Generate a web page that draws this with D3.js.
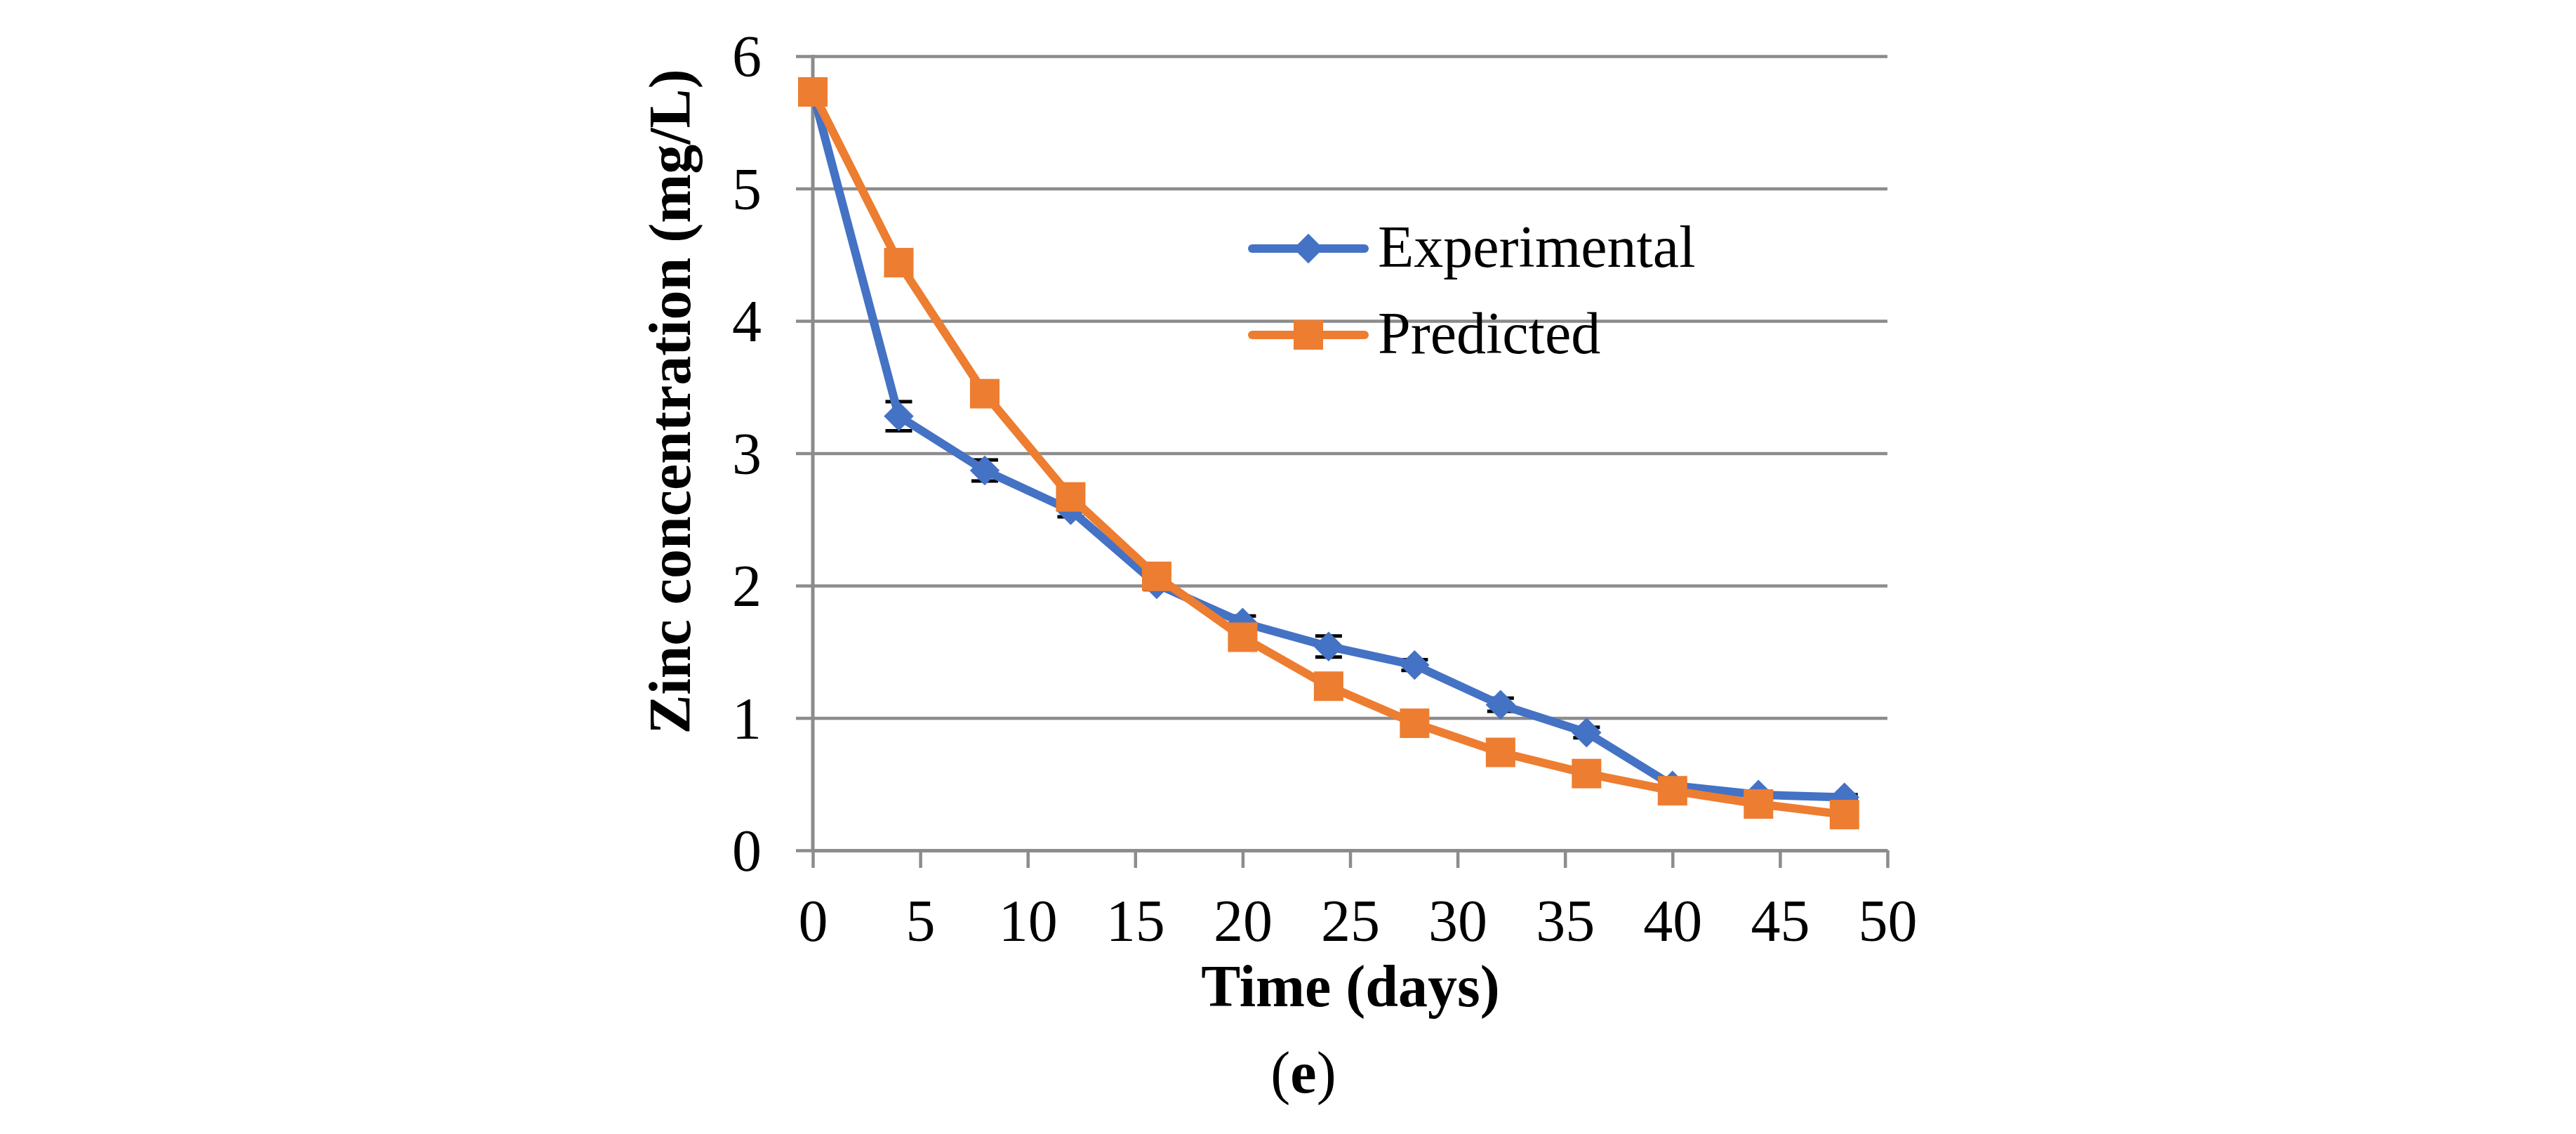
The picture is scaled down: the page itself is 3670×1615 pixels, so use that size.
<!DOCTYPE html>
<html>
<head>
<meta charset="utf-8">
<script src="https://cdn.jsdelivr.net/npm/d3@7"></script>
<style>
  body { margin: 0; background: #fff; }
  text { font-family: "Liberation Serif", "Times New Roman", serif; fill: #000; }
</style>
</head>
<body>
<svg id="chart"></svg>
<script>
const days = [0, 4, 8, 12, 16, 20, 24, 28, 32, 36, 40, 44, 48];
const experimental = [5.73, 3.28, 2.87, 2.57, 2.01, 1.72, 1.54, 1.40, 1.10, 0.89, 0.49, 0.42, 0.40];
const expError = [0, 0.11, 0.08, 0.05, 0.04, 0.05, 0.08, 0.04, 0.05, 0.04, 0.02, 0.02, 0.02];
const predicted = [5.73, 4.44, 3.45, 2.67, 2.07, 1.61, 1.24, 0.96, 0.74, 0.58, 0.45, 0.35, 0.27];
const xTicks = [0, 5, 10, 15, 20, 25, 30, 35, 40, 45, 50];
const yTicks = [0, 1, 2, 3, 4, 5, 6];
const seriesNames = ['Experimental', 'Predicted'];

const width = 3670, height = 1615;
const margin = { top: 80, left: 1158, bottom: 404, right: 981 };
const iwidth = width - margin.left - margin.right;
const iheight = height - margin.top - margin.bottom;

const blue = '#4472C4', orange = '#ED7D31', grey = '#8c8c8c';

const svg = d3.select('#chart').attr('width', width).attr('height', height);
const g = svg.append('g').attr('transform', `translate(${margin.left},${margin.top})`);

const x = d3.scaleLinear().domain([0, 50]).range([0, iwidth]);
const y = d3.scaleLinear().domain([0, 6]).range([iheight, 0]);

// horizontal gridlines + y ticks
const yAxis = g.append('g')
  .call(d3.axisLeft(y).tickValues(yTicks).tickSize(-iwidth).tickFormat(d3.format('d')));
yAxis.select('.domain').remove();
yAxis.selectAll('.tick line').attr('x1', -24).attr('stroke', grey).attr('stroke-width', 4.5);
yAxis.selectAll('.tick text').attr('x', -73).attr('font-size', 84)
  .attr('font-family', '"Liberation Serif", serif')
  .attr('dy', '0.34em').attr('fill', '#000');

// y axis line
g.append('line').attr('x1', 0).attr('x2', 0).attr('y1', -2).attr('y2', iheight)
  .attr('stroke', grey).attr('stroke-width', 5);

// x axis
const xAxis = g.append('g').attr('transform', `translate(0,${iheight})`)
  .call(d3.axisBottom(x).tickValues(xTicks).tickSize(25).tickPadding(44).tickSizeOuter(0));
xAxis.select('.domain').attr('stroke', grey).attr('stroke-width', 5);
xAxis.selectAll('.tick line').attr('stroke', grey).attr('stroke-width', 4.5);
xAxis.selectAll('.tick text').attr('font-size', 84).attr('font-family', '"Liberation Serif", serif')
  .attr('fill', '#000');

// error bars
const errG = g.append('g');
days.forEach((d, i) => {
  if (!expError[i]) return;
  const cx = x(d), y1 = y(experimental[i] + expError[i]), y2 = y(experimental[i] - expError[i]);
  errG.append('line').attr('x1', cx).attr('x2', cx).attr('y1', y1).attr('y2', y2)
    .attr('stroke', '#000').attr('stroke-width', 4);
  [y1, y2].forEach(yy => errG.append('line').attr('x1', cx - 19).attr('x2', cx + 19)
    .attr('y1', yy).attr('y2', yy).attr('stroke', '#000').attr('stroke-width', 5));
});

const line = d3.line().x((d, i) => x(days[i])).y(d => y(d));

// experimental series
g.append('path').datum(experimental).attr('d', line)
  .attr('fill', 'none').attr('stroke', blue).attr('stroke-width', 12).attr('stroke-linejoin', 'round');
const diamond = d3.symbol().type(d3.symbolSquare).size(30 * 30);
g.selectAll('.exp').data(experimental).enter().append('path')
  .attr('d', diamond)
  .attr('transform', (d, i) => `translate(${x(days[i])},${y(d)}) rotate(45)`)
  .attr('fill', blue);

// predicted series
g.append('path').datum(predicted).attr('d', line)
  .attr('fill', 'none').attr('stroke', orange).attr('stroke-width', 12).attr('stroke-linejoin', 'round');
g.selectAll('.pred').data(predicted).enter().append('rect')
  .attr('x', (d, i) => x(days[i]) - 21).attr('y', d => y(d) - 21)
  .attr('width', 42).attr('height', 42).attr('fill', orange);

// legend
const legend = svg.append('g');
const legendY = [354, 477];
const legendColors = [blue, orange];
seriesNames.forEach((name, i) => {
  const ly = legendY[i];
  legend.append('line').attr('x1', 1784).attr('x2', 1944).attr('y1', ly).attr('y2', ly)
    .attr('stroke', legendColors[i]).attr('stroke-width', 12).attr('stroke-linecap', 'round');
  if (i === 0) {
    legend.append('path').attr('d', diamond).attr('transform', `translate(1864,${ly}) rotate(45)`)
      .attr('fill', blue);
  } else {
    legend.append('rect').attr('x', 1843).attr('y', ly - 21).attr('width', 42).attr('height', 42)
      .attr('fill', orange);
  }
  legend.append('text').attr('x', 1963).attr('y', ly + 26).attr('font-size', 84).text(name);
});

// axis titles
svg.append('text').attr('x', 1924).attr('y', 1433).attr('text-anchor', 'middle')
  .attr('font-size', 84).attr('font-weight', 'bold').text('Time (days)');

svg.append('text').attr('transform', 'translate(983,572) rotate(-90)').attr('text-anchor', 'middle')
  .attr('font-size', 84).attr('font-weight', 'bold').text('Zinc concentration (mg/L)');

const cap = svg.append('text').attr('x', 1857).attr('y', 1556).attr('text-anchor', 'middle')
  .attr('font-size', 84);
cap.append('tspan').text('(');
cap.append('tspan').attr('font-weight', 'bold').text('e');
cap.append('tspan').text(')');
</script>
</body>
</html>
